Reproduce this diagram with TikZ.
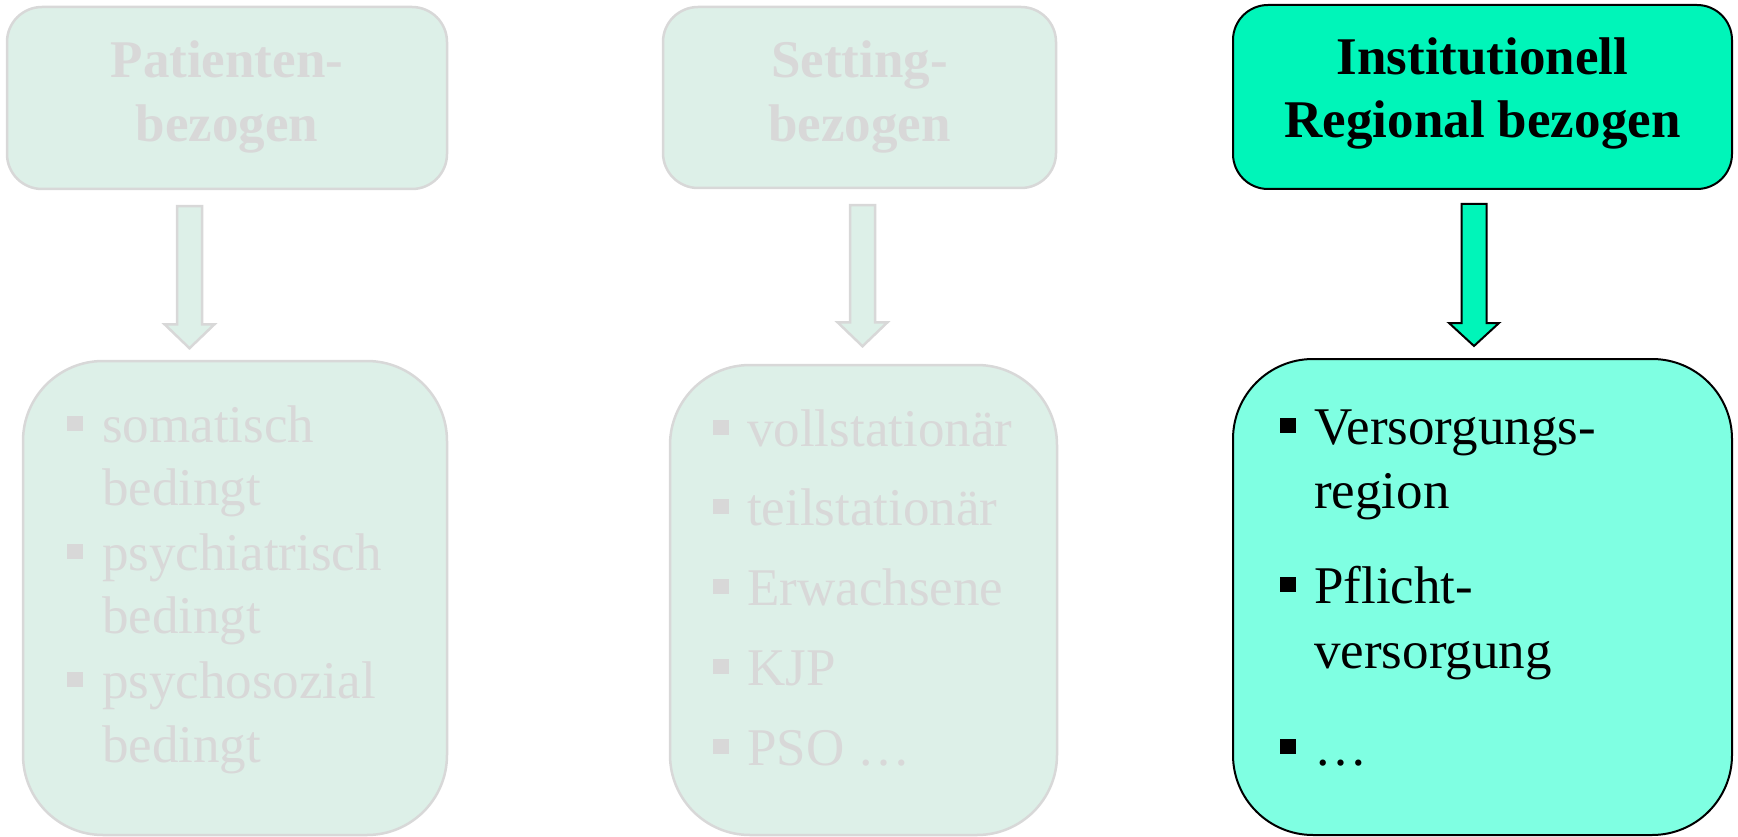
\documentclass[tikz,border=0pt]{standalone}
\usepackage{fontspec}
\setmainfont{Liberation Serif}
\usetikzlibrary{calc}
\definecolor{fadefill}{RGB}{221,240,232}
\definecolor{fadeline}{RGB}{216,216,216}
\definecolor{hotfill}{RGB}{0,245,185}
\definecolor{listfill}{RGB}{127,255,226}
\begin{document}
\begin{tikzpicture}[x=1pt,y=-1pt,
  fadebox/.style={rectangle, inner sep=0pt, draw=fadeline, fill=fadefill, line width=2.5pt},
  hotbox/.style={rectangle, inner sep=0pt, draw=black, fill=#1, line width=2pt},
  bigtxt/.style={inner sep=0pt, font=\fontsize{53}{64}\selectfont},
  headtxt/.style={bigtxt, anchor=base, font=\fontsize{53}{64}\selectfont\bfseries},
  itemtxt/.style={bigtxt, anchor=base west},
  bul/.style={rectangle, inner sep=0pt, minimum size=15.5pt, fill=#1},
  fadearrow/.style={draw=fadeline, fill=fadefill, line width=2.5pt, line join=miter},
  hotarrow/.style={draw=black, fill=hotfill, line width=2pt, line join=miter}]
\useasboundingbox (0,0) rectangle (1738,837);

% top boxes
\node[fadebox, rounded corners=35pt, minimum width=440pt, minimum height=182pt] (h1) at (227,98) {};
\node[fadebox, rounded corners=35pt, minimum width=393pt, minimum height=181pt] (h2) at (859.5,97.5) {};
\node[hotbox=hotfill, rounded corners=35pt, minimum width=499pt, minimum height=184pt] (h3) at (1482.5,97) {};

% bottom boxes
\node[fadebox, rounded corners=80pt, minimum width=424pt, minimum height=474pt] (l1) at (235,598) {};
\node[fadebox, rounded corners=80pt, minimum width=387pt, minimum height=470pt] (l2) at (863.5,600) {};
\node[hotbox=listfill, rounded corners=80pt, minimum width=499pt, minimum height=476pt] (l3) at (1482.5,597) {};

% headings
\node[headtxt, text=fadeline] (t1a) at (227,78) {Patienten-};
\node[headtxt, text=fadeline] (t1b) at (227,142) {bezogen};
\node[headtxt, text=fadeline] (t2a) at (859.5,78) {Setting-};
\node[headtxt, text=fadeline] (t2b) at (859.5,142) {bezogen};
\node[headtxt, text=black] (t3a) at (1482.5,75) {Institutionell};
\node[headtxt, text=black] (t3b) at (1482.5,138) {Regional bezogen};

% arrows
\coordinate (a1) at ($(h1.south)+(-37.5,16)$);
\coordinate (a2) at ($(h2.south)+(3,16)$);
\coordinate (a3) at ($(h3.south)+(-8.5,14)$);
\draw[fadearrow] ($(a1)+(-12.5,0)$) -- ++(25,0) -- ++(0,118) -- ++(12.5,0) -- ++(-25,24) -- ++(-25,-24) -- ++(12.5,0) -- cycle;
\draw[fadearrow] ($(a2)+(-12.5,0)$) -- ++(25,0) -- ++(0,117) -- ++(12.5,0) -- ++(-25,24) -- ++(-25,-24) -- ++(12.5,0) -- cycle;
\draw[hotarrow] ($(a3)+(-12.5,0)$) -- ++(25,0) -- ++(0,119) -- ++(12.5,0) -- ++(-25,23) -- ++(-25,-23) -- ++(12.5,0) -- cycle;

% left list
\node[bul=fadeline] (p1) at (75,423.5) {};
\node[itemtxt, text=fadeline] (q1) at (102,442) {somatisch};
\node[itemtxt, text=fadeline] (q1b) at (102,505) {bedingt};
\node[bul=fadeline] (p2) at (75,551.5) {};
\node[itemtxt, text=fadeline] (q2) at (102,570) {psychiatrisch};
\node[itemtxt, text=fadeline] (q2b) at (102,633) {bedingt};
\node[bul=fadeline] (p3) at (75,679.5) {};
\node[itemtxt, text=fadeline] (q3) at (102,698) {psychosozial};
\node[itemtxt, text=fadeline] (q3b) at (102,762) {bedingt};

% middle list
\node[bul=fadeline] (m1) at (721,427.5) {};
\node[itemtxt, text=fadeline] (n1) at (747,446) {vollstationär};
\node[bul=fadeline] (m2) at (721,506.5) {};
\node[itemtxt, text=fadeline] (n2) at (747,525) {teilstationär};
\node[bul=fadeline] (m3) at (721,586.5) {};
\node[itemtxt, text=fadeline] (n3) at (747,605) {Erwachsene};
\node[bul=fadeline] (m4) at (721,666.5) {};
\node[itemtxt, text=fadeline] (n4) at (747,685) {KJP};
\node[bul=fadeline] (m5) at (721,746.5) {};
\node[itemtxt, text=fadeline] (n5) at (747,765) {PSO …};

% right list
\node[bul=black] (r1) at (1288,425.5) {};
\node[itemtxt, text=black] (s1) at (1314,444) {Versorgungs-};
\node[itemtxt, text=black] (s1b) at (1314,508) {region};
\node[bul=black] (r2) at (1288,584.5) {};
\node[itemtxt, text=black] (s2) at (1314,603) {Pflicht-};
\node[itemtxt, text=black] (s2b) at (1314,668) {versorgung};
\node[bul=black] (r3) at (1288,746.5) {};
\node[itemtxt, text=black] (s3) at (1314,765) {…};
\end{tikzpicture}
\end{document}
